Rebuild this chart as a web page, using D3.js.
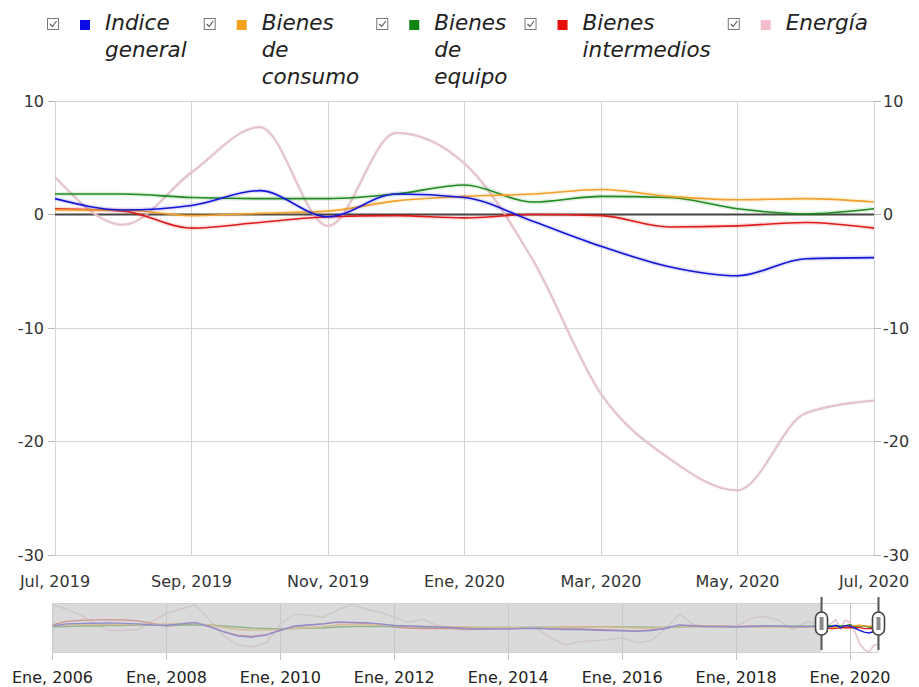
<!DOCTYPE html>
<html><head><meta charset="utf-8">
<script src="https://cdn.jsdelivr.net/npm/d3@7"></script>
<style>body{margin:0;background:#fff}svg{display:block}</style>
</head><body><svg id="c" width="919" height="687"></svg>
<script>
// ---------- DATA ----------
const seriesNames = ["Indice general", "Bienes de consumo", "Bienes de equipo", "Bienes intermedios", "Energía"];
// monthly, Jul 2019 .. Jul 2020
const monthLabels = ["Jul, 2019","Ago, 2019","Sep, 2019","Oct, 2019","Nov, 2019","Dic, 2019","Ene, 2020","Feb, 2020","Mar, 2020","Abr, 2020","May, 2020","Jun, 2020","Jul, 2020"];
const xTickLabels = ["Jul, 2019","Sep, 2019","Nov, 2019","Ene, 2020","Mar, 2020","May, 2020","Jul, 2020"];
const yTicks = [10, 0, -10, -20, -30];
const indiceGeneral     = [1.4, 0.4, 0.8, 2.1, -0.2, 1.8, 1.5, -0.6, -2.8, -4.6, -5.4, -3.9, -3.8];
const bienesConsumo     = [0.4, 0.4, -0.1, 0.1, 0.3, 1.2, 1.6, 1.8, 2.2, 1.6, 1.3, 1.4, 1.1];
const bienesEquipo      = [1.8, 1.8, 1.5, 1.4, 1.4, 1.8, 2.6, 1.1, 1.6, 1.5, 0.5, 0.05, 0.5];
const bienesIntermedios = [0.5, 0.3, -1.2, -0.7, -0.2, -0.1, -0.3, 0.0, -0.1, -1.1, -1.0, -0.7, -1.2];
const energia           = [3.3, -0.9, 3.7, 7.7, -1.0, 7.2, 4.5, -4.0, -15.8, -21.5, -24.3, -17.5, -16.4];

// navigator history, quarterly Ene 2006 .. Abr 2019
const navYearLabels = ["Ene, 2006","Ene, 2008","Ene, 2010","Ene, 2012","Ene, 2014","Ene, 2016","Ene, 2018","Ene, 2020"];
const histGeneral = [1.5,3.5,4.0,4.2, 4.5,4.0,3.5,2.5, 2.0,3.5,5.0,1.0, -4.0,-8.5,-9.5,-7.5, -2.5,1.5,2.5,3.5, 5.5,5.0,4.8,3.5, 2.0,1.5,1.0,0.5, 0.0,-1.0,-1.5,-1.5, -1.5,-1.0,-0.8,-1.5, -2.0,-2.0,-2.5,-3.0, -3.2,-3.8,-3.0,-1.0, 2.5,1.5,0.8,0.8, 0.5,1.0,1.5,1.5, 1.0,0.8];
const histConsumo = [1.5,2.5,3.0,3.0, 3.0,3.0,3.0,3.0, 3.5,4.0,4.5,2.5, 0.0,-2.0,-2.5,-2.5, -2.0,-1.0,0.0,1.0, 2.5,3.0,2.8,2.5, 2.0,1.5,1.0,1.0, 0.8,0.5,0.0,0.0, 0.0,0.0,0.0,0.0, 0.5,0.5,0.5,0.5, 0.0,-0.5,-0.5,0.0, 0.8,1.0,1.0,1.0, 0.8,0.5,0.5,0.5, 0.5,0.5];
const histEquipo = [0.5,1.0,1.5,1.5, 2.0,2.0,2.5,2.5, 2.5,2.5,2.5,2.5, 1.5,0.5,-0.5,-1.0, -1.5,-1.0,-0.5,-0.5, 0.5,1.0,1.0,1.0, 1.0,0.8,0.5,0.5, 0.5,0.3,0.0,0.0, 0.0,0.0,0.2,0.3, 0.5,0.8,0.8,0.8, 0.5,0.5,0.3,0.3, 0.5,0.8,1.0,1.0, 0.8,0.8,1.0,1.2, 1.2,1.5];
const histIntermedios = [2.5,6.0,7.0,7.5, 7.5,7.5,6.5,4.0, 1.5,2.5,4.0,1.0, -4.0,-7.5,-8.5,-7.0, -3.0,1.0,2.5,3.5, 5.0,4.5,4.0,2.5, 0.5,-0.5,-1.0,-1.0, -1.0,-1.5,-1.5,-1.0, -1.0,-0.5,-0.5,-1.0, -1.5,-1.5,-2.0,-2.5, -3.0,-3.5,-2.5,-1.0, 2.0,2.0,1.5,1.5, 1.0,1.5,1.5,1.0, 0.5,0.5];
const histEnergia = [22,18,12,4, -3,-3,-2,6, 14,18,22,8, -8,-17,-19,-15, 3,13,12,10, 17,23,18,15, 10,5,8,2, -1,-3,-2,-1, -1,0,-1,-10, -17,-14,-13,-12, -10,-15,-13,-2, 13,3,0,0, 1,9,11,7, -2,6];

// ---------- STYLE / LAYOUT ----------
const colors = ["#1515d8", "#f2a02a", "#1f8a1f", "#df1c1c", "#e4c3c9"];
const legendSwatch = ["#0b0be6", "#f4a11c", "#118511", "#e60d0d", "#f5bccb"];
const FONT = "'DejaVu Sans', Verdana, sans-serif";

const svg = d3.select("#c");
const L = 55, R = 874, T = 101, B = 555;
const x = d3.scaleLinear().domain([0, monthLabels.length - 1]).range([L, R]);
const y = d3.scaleLinear().domain([-30, 10]).range([B, T]);
const mainSeries = [indiceGeneral, bienesConsumo, bienesEquipo, bienesIntermedios, energia];

// grid
const g = svg.append("g");
g.selectAll(".hg").data(yTicks).join("line")
  .attr("x1", L).attr("x2", R).attr("y1", d => y(d)).attr("y2", d => y(d))
  .attr("stroke", "#d4d4d4").attr("stroke-width", 1).attr("shape-rendering", "crispEdges");
const xTickIdx = xTickLabels.map(l => monthLabels.indexOf(l));
g.selectAll(".vg").data(xTickIdx).join("line")
  .attr("x1", d => x(d)).attr("x2", d => x(d)).attr("y1", T).attr("y2", B)
  .attr("stroke", "#d4d4d4").attr("stroke-width", 1).attr("shape-rendering", "crispEdges");
// y ticks both sides
[[L - 7, L], [R, R + 7]].forEach(([a, b]) => {
  g.selectAll(null).data(yTicks).join("line")
    .attr("x1", a).attr("x2", b).attr("y1", d => y(d)).attr("y2", d => y(d))
    .attr("stroke", "#b8b8b8").attr("shape-rendering", "crispEdges");
});
g.selectAll(null).data(yTicks).join("text")
  .attr("x", L - 11).attr("y", d => y(d)).attr("dy", "0.36em").attr("text-anchor", "end")
  .attr("font-family", FONT).attr("font-size", 16).attr("fill", "#333").text(d => d);
g.selectAll(null).data(yTicks).join("text")
  .attr("x", R + 9).attr("y", d => y(d)).attr("dy", "0.36em").attr("text-anchor", "start")
  .attr("font-family", FONT).attr("font-size", 16).attr("fill", "#333").text(d => d);
g.selectAll(null).data(xTickIdx).join("text")
  .attr("x", d => x(d)).attr("y", B + 32).attr("text-anchor", "middle")
  .attr("font-family", FONT).attr("font-size", 16).attr("fill", "#333").text((d, i) => xTickLabels[i]);

// zero baseline
g.append("line").attr("x1", L).attr("x2", R).attr("y1", y(0)).attr("y2", y(0))
  .attr("stroke", "#444").attr("stroke-width", 2);

// series
const line = d3.line().x((d, i) => x(i)).y(d => y(d)).curve(d3.curveMonotoneX);
const drawOrder = [4, 3, 2, 1, 0];
drawOrder.forEach(k => {
  const w = k === 4 ? 2.2 : 1.6;
  g.append("path").attr("d", line(mainSeries[k])).attr("fill", "none")
    .attr("stroke", colors[k]).attr("stroke-width", w + 3).attr("stroke-opacity", k === 4 ? 0.08 : 0.13);
  g.append("path").attr("d", line(mainSeries[k])).attr("fill", "none")
    .attr("stroke", colors[k]).attr("stroke-width", w);
});

// ---------- LEGEND ----------
const lg = svg.append("g");
let lx = 47;
seriesNames.forEach((name, k) => {
  const it = lg.append("g");
  it.append("rect").attr("x", lx + 0.5).attr("y", 18.5).attr("width", 11).attr("height", 11)
    .attr("fill", "#fff").attr("stroke", "#777").attr("stroke-width", 1);
  it.append("path").attr("d", `M${lx + 3},${24} L${lx + 5.5},${26.5} L${lx + 9.5},${21}`)
    .attr("fill", "none").attr("stroke", "#555").attr("stroke-width", 1.1);
  it.append("rect").attr("x", lx + 33).attr("y", 20).attr("width", 10).attr("height", 10)
    .attr("fill", legendSwatch[k]);
  const words = name.split(" ");
  let maxW = 0;
  words.forEach((w, j) => {
    const t = it.append("text").attr("x", lx + 58).attr("y", 30 + j * 27)
      .attr("font-family", FONT).attr("font-style", "italic").attr("font-size", 21.5)
      .attr("fill", "#222").text(w);
    maxW = Math.max(maxW, t.node().getComputedTextLength());
  });
  lx = lx + 58 + maxW + 17;
});

// ---------- NAVIGATOR ----------
const NL = 52.5, NR = 878.5, NT = 603, NB = 653;
const histTimes = histGeneral.map((d, i) => 2006 + i * 0.25);
const mainTimes = mainSeries[0].map((d, i) => 2019.5 + i / 12);
const x2 = d3.scaleLinear().domain([2006, 2020.5]).range([NL, NR]);
const y2 = d3.scaleLinear().domain([-25, 24]).range([NB, NT]);
const hist = [histGeneral, histConsumo, histEquipo, histIntermedios, histEnergia];
const ng = svg.append("g");
ng.append("rect").attr("x", NL).attr("y", NT).attr("width", NR - NL).attr("height", NB - NT).attr("fill", "#fff");
const navYears = navYearLabels.map(s => +s.split(", ")[1]);
ng.selectAll(null).data(navYears).join("line")
  .attr("x1", d => x2(d)).attr("x2", d => x2(d)).attr("y1", NT).attr("y2", NB + 7)
  .attr("stroke", "#c4c4c4").attr("shape-rendering", "crispEdges");
const nline = d3.line().x(d => x2(d[0])).y(d => y2(d[1]));
drawOrder.forEach(k => {
  const pts = histTimes.map((t, i) => [t, hist[k][i]]).concat(mainTimes.map((t, i) => [t, mainSeries[k][i]]));
  ng.append("path").attr("d", nline(pts)).attr("fill", "none")
    .attr("stroke", colors[k]).attr("stroke-width", k === 4 ? 1.6 : 1.4);
});
// shaded outside selection
const selA = x2(mainTimes[0]), selB = x2(mainTimes[mainTimes.length - 1]);
ng.append("rect").attr("x", NL).attr("y", NT).attr("width", selA - NL).attr("height", NB - NT)
  .attr("fill", "#c9c9c9").attr("fill-opacity", 0.68);
ng.append("rect").attr("x", NL + 0.5).attr("y", NT + 0.5).attr("width", NR - NL - 1).attr("height", NB - NT - 1)
  .attr("fill", "none").attr("stroke", "#d0d0d0");
ng.selectAll(null).data(navYears).join("text")
  .attr("x", d => x2(d)).attr("y", 683).attr("text-anchor", "middle")
  .attr("font-family", FONT).attr("font-size", 16).attr("fill", "#222").text((d, i) => navYearLabels[i]);
// handles
[selA, selB].forEach(hx => {
  ng.append("line").attr("x1", hx).attr("x2", hx).attr("y1", 597).attr("y2", 650)
    .attr("stroke", "#555").attr("stroke-width", 2);
  ng.append("rect").attr("x", hx - 6).attr("y", 612).attr("width", 12).attr("height", 23).attr("rx", 6)
    .attr("fill", "#fff").attr("stroke", "#444").attr("stroke-width", 1.6);
  ng.append("rect").attr("x", hx - 2).attr("y", 617).attr("width", 4).attr("height", 13)
    .attr("fill", "#8a8a8a");
});
</script></body></html>
